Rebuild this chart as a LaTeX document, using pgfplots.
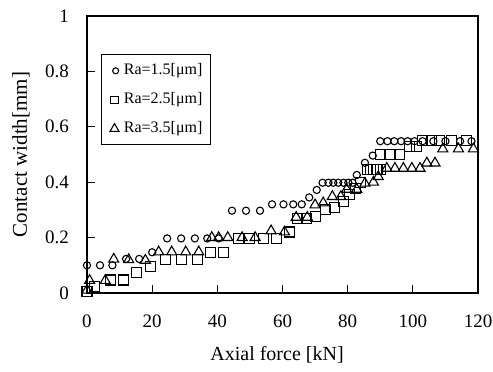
\documentclass[border=0pt]{standalone}
\usepackage{fontspec}
\setmainfont{Liberation Serif}
\usepackage{pgfplots}
\pgfplotsset{compat=1.18}
\usetikzlibrary{calc}
\begin{document}
\begin{tikzpicture}
\begin{axis}[
  scale only axis=true,
  width=195.5pt, height=138.5pt,
  xmin=0, xmax=120, ymin=0, ymax=1,
  xtick={0,20,40,60,80,100,120},
  ytick={0,0.2,0.4,0.6,0.8,1},
  yticklabels={0,0.2,0.4,0.6,0.8,1},
  tick align=inside,
  xtick pos=bottom, ytick pos=left,
  major tick length=4pt,
  axis line style={line width=0.55pt},
  tick style={line width=0.55pt, black},
  /pgf/number format/assume math mode=true,
  ticklabel style={font=\fontsize{9.5}{9.5}\selectfont},
  xticklabel style={yshift=-7.5pt},
  yticklabel style={xshift=-5.5pt},
  xlabel={Axial force [kN]},
  ylabel={Contact width[mm]},
  every axis x label/.style={at={(axis description cs:0.486,-0.222)}, anchor=center, font=\fontsize{10}{10}\selectfont},
  every axis y label/.style={at={(axis description cs:-0.169,0.5)}, anchor=center, rotate=90, font=\fontsize{10.5}{10.5}\selectfont},
  legend style={at={(0.036,0.862)}, anchor=north west, draw=black, line width=0.6pt,
    font=\fontsize{8}{8}\selectfont, row sep=4.5pt, inner sep=3pt,
    nodes={inner sep=1pt, text height=6pt, text depth=2pt}},
  legend cell align=left,
]
\coordinate (bl) at (rel axis cs:0,0);
\coordinate (tr) at (rel axis cs:1,1);
\addplot[only marks, mark=o, mark size=1.8pt, black, line width=0.55pt,
  legend image code/.code={\path[draw=none,fill=none] (0cm,-0.05cm) rectangle (0.25cm,0.05cm); \draw[mark size=1.5pt] plot coordinates {(0.14cm,0cm)};}]
table {
x y
0 0.10
4 0.10
7.8 0.10
12 0.123
16 0.123
20 0.147
24.6 0.197
28.9 0.197
33.1 0.197
36.9 0.197
40.4 0.197
44.5 0.297
48.8 0.297
53.1 0.297
56.8 0.32
60.3 0.32
63.3 0.32
65.9 0.32
68.2 0.345
70.5 0.372
72.3 0.398
74.1 0.398
75.6 0.398
77.1 0.398
78.7 0.398
80.2 0.398
81.5 0.398
82.8 0.426
85.3 0.47
87.7 0.496
90 0.548
92.2 0.548
94.3 0.548
96.4 0.548
98.4 0.548
100.5 0.548
103 0.548
106.3 0.548
110 0.548
114.5 0.548
118 0.548
};
\addlegendentry{Ra=1.5[μm]}
\addplot[only marks, mark=square, mark size=2.5pt, black, line width=0.55pt,
  legend image code/.code={\path[draw=none,fill=none] (0cm,-0.05cm) rectangle (0.25cm,0.05cm); \draw[mark size=1.8pt] plot coordinates {(0.12cm,0cm)};}]
table {
x y
0 0.005
2.4 0.025
7.2 0.047
11.3 0.047
15.3 0.075
19.4 0.097
24 0.12
28.9 0.12
33.8 0.12
37.9 0.147
42 0.147
46.4 0.197
50 0.197
54.1 0.197
58.2 0.197
62.2 0.22
64.5 0.27
67.5 0.27
70 0.275
73.3 0.3
76 0.31
78.7 0.33
80.7 0.354
82.5 0.378
84 0.40
86 0.446
87 0.446
88 0.446
89 0.446
90 0.446
90 0.5
93 0.5
96 0.5
99 0.528
101.2 0.528
103 0.55
105.8 0.55
108.3 0.55
112 0.55
116.5 0.55
};
\addlegendentry{Ra=2.5[μm]}
\addplot[only marks, mark=triangle, mark size=2.9pt, black, line width=0.55pt,
  legend image code/.code={\path[draw=none,fill=none] (0cm,-0.05cm) rectangle (0.25cm,0.05cm); \draw[mark size=2.6pt] plot coordinates {(0.12cm,0cm)};}]
table {
x y
0 0.01
0.8 0.045
5.6 0.045
8.2 0.122
12.8 0.12
17.9 0.118
22 0.148
26 0.148
30.3 0.148
34.3 0.148
38.3 0.2
40.4 0.2
43.2 0.2
47.6 0.2
51.6 0.2
56.5 0.224
60.6 0.22
64.2 0.273
67.6 0.273
70 0.318
72.5 0.325
75.3 0.348
77.9 0.348
79.7 0.374
82.8 0.374
85.3 0.396
87.9 0.4
89.4 0.42
92 0.45
94.5 0.45
97.1 0.45
99.7 0.45
102.2 0.45
104.3 0.469
106.8 0.469
109.2 0.52
114 0.52
118.6 0.52
};
\addlegendentry{Ra=3.5[μm]}
\end{axis}
\pgfresetboundingbox
\path[use as bounding box] ($(bl)+(-43.5pt,-39.5pt)$) rectangle ($(tr)+(7.5pt,8pt)$);
\end{tikzpicture}
\end{document}
